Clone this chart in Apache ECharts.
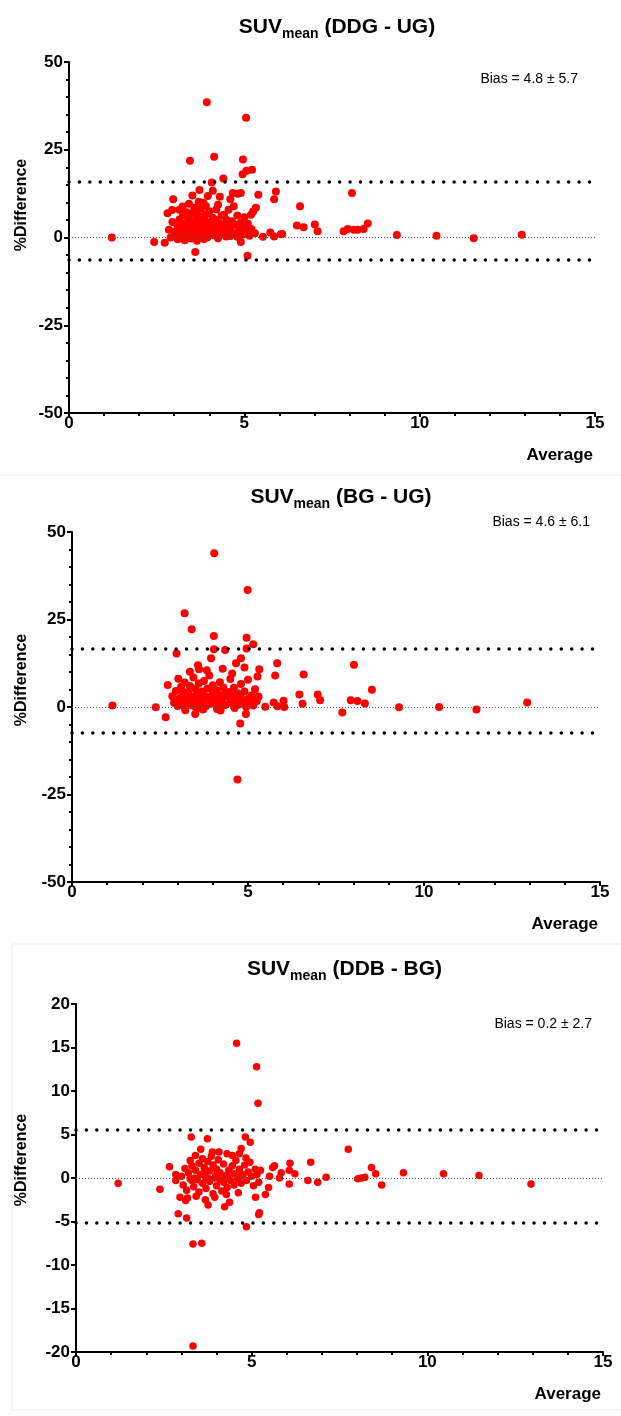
<!DOCTYPE html>
<html><head><meta charset="utf-8">
<script src="https://cdn.jsdelivr.net/npm/echarts@6/dist/echarts.min.js"></script>
<style>html,body{margin:0;padding:0;background:#fff}#c{width:621px;height:1416px}</style>
</head><body><div id="c"></div>
<script>
// ---- data ----
const titles = ['(DDG - UG)', '(BG - UG)', '(DDB - BG)'];
const biasMean = [4.8, 4.6, 0.2];
const biasSD = [5.7, 6.1, 2.7];
const yTicks1 = [-50, -25, 0, 25, 50];
const yTicks3 = [-20, -15, -10, -5, 0, 5, 10, 15, 20];
const xTicks = [0, 5, 10, 15];

const ddgUg = [
[1.22,0],[3.93,38.5],[5.05,34.1],[3.45,21.9],[4.14,23.0],[4.96,22.2],[4.95,18.0],[5.06,19.0],[5.22,19.3],[4.40,16.8],[4.07,15.7],[3.72,13.5],[4.10,13.3],[3.96,11.8],[4.67,12.7],[4.81,12.5],[4.90,12.7],[5.40,12.2],[5.90,13.1],[5.85,10.9],[8.07,12.7],[2.97,10.9],[3.83,9.9],[3.24,8.8],[3.57,8.5],[4.70,8.9],[5.33,8.5],[6.59,8.9],[2.81,6.9],[2.94,7.8],[4.42,6.5],[5.19,6.5],[6.50,3.4],[6.69,2.9],[7.01,3.7],[7.09,1.8],[7.83,1.8],[7.95,2.4],[8.12,2.2],[8.23,2.2],[8.40,2.4],[8.52,4.0],[2.43,-1.3],[2.73,-1.5],[3.60,-4.1],[4.90,-1.3],[5.09,-5.2],[5.53,0.2],[5.85,0.3],[6.04,0.9],[5.74,1.4],[6.08,1.0],[9.35,0.7],[10.48,0.5],[11.54,-0.2],[12.91,0.8],
[3.0,0.5],[3.05,1.8],[3.1,3.2],[3.1,-0.5],[3.15,5.1],[3.2,2.4],[3.2,0.2],[3.25,6.3],[3.25,1.1],[3.3,4.0],[3.3,-0.8],[3.35,2.9],[3.35,7.2],[3.4,0.6],[3.4,5.5],[3.45,1.9],[3.45,3.6],[3.5,-0.3],[3.5,4.6],[3.5,6.8],[3.55,2.5],[3.55,0.9],[3.6,7.6],[3.6,3.1],[3.6,1.4],[3.65,-0.9],[3.65,5.2],[3.7,2.0],[3.7,0.3],[3.7,6.1],[3.75,3.8],[3.75,8.2],[3.8,1.0],[3.8,4.9],[3.85,2.6],[3.85,-0.4],[3.9,6.6],[3.9,3.3],[3.95,1.6],[3.95,0.1],[4.0,4.3],[4.0,7.5],[4.05,2.2],[4.1,0.7],[4.1,5.6],[4.15,3.0],[4.2,1.3],[4.2,8.0],[4.25,-0.2],[4.3,4.0],[4.3,2.1],[4.35,6.2],[4.4,0.9],[4.45,3.5],[4.5,1.7],[4.5,5.0],[4.55,7.9],[4.6,0.4],[4.6,2.9],[4.65,4.6],[4.7,1.2],[4.75,3.6],[4.8,6.3],[4.8,0.2],[4.85,2.3],[4.9,4.2],[4.95,0.8],[5.0,2.9],[5.0,5.8],[5.05,1.5],[5.1,3.9],[5.15,0.5],[5.2,2.4],[5.25,7.4],[5.3,1.2],[2.85,2.2],[2.9,0.0],[2.95,4.4],[3.12,1.0],[3.28,3.3],[3.38,-0.1],[3.48,2.7],[3.58,4.1],[3.68,1.1],[3.78,2.8],[3.88,4.8],[3.98,2.6],[4.08,1.1],[4.18,5.0],[4.28,3.3],[4.38,1.9],[4.48,0.3],[3.42,9.6],[3.9,9.0],[4.25,9.3],[3.15,7.9],[3.7,10.2],[4.6,10.9],[3.52,12.0],[4.3,11.6]
];

const bgUg = [
[1.15,0.4],[4.04,43.9],[4.99,33.4],[3.20,26.8],[3.40,22.2],[4.03,20.3],[4.96,19.8],[5.15,17.9],[4.03,16.5],[4.35,16.3],[4.96,16.7],[2.97,15.3],[3.95,13.9],[4.66,12.5],[4.80,13.9],[3.61,10.8],[5.32,10.8],[5.27,8.7],[5.83,12.5],[5.77,9.0],[6.58,9.3],[8.01,12.1],[2.72,6.3],[6.46,3.6],[6.55,0.9],[6.98,3.6],[7.05,1.9],[7.68,-1.6],[7.92,1.9],[8.11,1.7],[8.32,1.0],[8.52,4.9],[2.38,-0.1],[2.66,-2.9],[3.50,-2.0],[4.78,-4.7],[4.94,-2.0],[4.12,-0.6],[5.49,0.1],[5.73,1.3],[6.01,1.8],[6.03,0.0],[5.84,0.2],[4.70,-20.7],[9.29,-0.1],[10.43,0.0],[11.49,-0.7],[12.93,1.3],
[2.85,3.1],[2.9,1.2],[2.95,4.6],[3.0,0.3],[3.05,2.4],[3.1,5.8],[3.1,1.0],[3.15,3.5],[3.2,0.0],[3.2,7.0],[3.25,2.1],[3.3,4.3],[3.3,1.5],[3.35,6.0],[3.4,0.5],[3.4,3.0],[3.45,8.4],[3.5,1.9],[3.5,5.2],[3.55,-0.4],[3.55,3.8],[3.6,2.6],[3.6,6.7],[3.65,0.8],[3.7,4.4],[3.7,1.6],[3.75,7.4],[3.8,3.1],[3.8,0.2],[3.85,5.3],[3.9,2.2],[3.9,9.0],[3.95,0.9],[4.0,3.9],[4.0,6.2],[4.05,1.4],[4.1,4.8],[4.1,2.7],[4.15,0.3],[4.2,7.1],[4.2,3.4],[4.25,1.8],[4.3,5.6],[4.35,0.6],[4.4,2.9],[4.45,4.3],[4.5,1.2],[4.5,8.0],[4.55,3.2],[4.6,0.2],[4.6,5.5],[4.65,2.1],[4.7,3.9],[4.75,0.7],[4.8,6.6],[4.8,2.6],[4.85,1.1],[4.9,4.4],[4.95,0.0],[5.0,2.3],[5.0,7.8],[5.05,1.0],[5.1,3.3],[5.15,0.4],[5.2,5.1],[5.25,1.7],[5.3,3.0],[3.02,8.1],[3.35,10.1],[3.58,11.9],[3.83,10.5],[4.28,10.9],[4.55,9.6],[4.9,11.3],[3.22,-0.9],[3.72,-0.7],[4.22,-1.0],[4.62,-0.3],[3.15,4.2],[3.45,2.3],[3.65,3.4],[3.95,2.4],[4.35,3.7],[4.75,1.6],[5.15,2.2],[4.02,5.1],[3.48,0.2],[4.18,0.9]
];

const ddbBg = [
[4.57,15.5],[5.14,12.8],[5.18,8.6],[1.20,-0.6],[2.39,-1.3],[2.66,1.3],[2.84,0.4],[2.84,-0.3],[2.96,-2.2],[2.91,-4.1],[3.15,-4.6],[3.17,-2.3],[3.28,4.7],[3.74,4.5],[3.76,-3.1],[4.07,3.0],[4.23,-3.3],[4.37,-2.8],[4.30,2.8],[4.82,4.7],[4.96,4.1],[4.70,3.4],[4.65,2.8],[4.84,2.3],[5.11,-2.2],[5.22,-4.0],[5.20,-4.2],[5.39,-1.9],[5.48,-1.1],[5.51,0.2],[5.60,1.2],[5.65,1.4],[5.79,0.0],[5.84,0.6],[6.09,1.7],[6.07,0.9],[6.23,0.5],[6.07,-0.7],[6.60,-0.3],[6.68,1.8],[6.88,-0.5],[7.12,0.1],[7.75,3.3],[8.02,-0.1],[8.13,0.0],[8.22,0.1],[8.41,1.2],[8.53,0.5],[8.70,-0.8],[9.32,0.6],[10.46,0.5],[11.47,0.3],[12.95,-0.7],[3.33,-19.3],[3.33,-7.6],[3.58,-7.5],[4.85,-5.6],
[3.0,0.2],[3.05,-0.8],[3.1,1.1],[3.15,-1.4],[3.2,0.6],[3.25,2.0],[3.3,-0.3],[3.3,1.4],[3.35,-1.0],[3.4,0.9],[3.4,2.6],[3.45,-0.2],[3.5,1.7],[3.5,-1.6],[3.55,0.4],[3.6,2.2],[3.6,-0.6],[3.65,1.2],[3.7,-1.2],[3.7,0.1],[3.75,1.9],[3.8,-0.4],[3.8,0.8],[3.85,2.5],[3.9,-1.8],[3.9,1.5],[3.95,0.0],[4.0,-0.9],[4.0,1.0],[4.05,2.1],[4.1,-0.2],[4.1,0.6],[4.15,-1.5],[4.2,1.6],[4.2,-0.5],[4.25,0.3],[4.3,-1.1],[4.35,0.9],[4.4,-0.3],[4.45,1.4],[4.5,-0.8],[4.5,0.5],[4.55,2.0],[4.6,-0.1],[4.65,1.0],[4.7,-0.6],[4.75,0.4],[4.8,1.5],[4.85,-0.3],[4.9,0.7],[4.95,1.8],[5.0,0.2],[5.05,-0.9],[5.1,1.0],[5.15,0.4],[5.2,-0.5],[5.25,0.9],[3.12,-2.6],[3.42,-2.1],[3.68,-2.5],[3.95,-2.2],[4.28,-1.9],[4.62,-1.7],[3.55,3.3],[3.88,3.0],[4.45,2.6],[3.25,-0.1],[3.62,0.5],[3.98,0.3],[4.32,0.1],[4.68,0.2],[3.38,0.0],[3.78,-0.1]
];
const seriesData = [ddgUg, bgUg, ddbBg];

// ---- layout ----
const FONT = '"Liberation Sans", Arial, sans-serif';
const grids = [
  {left: 69, top: 62, width: 526, height: 351},
  {left: 72, top: 532, width: 528, height: 350},
  {left: 76, top: 1004, width: 527, height: 348}
];
const biasPos = [[578, 79], [590, 522], [592, 1024]];
const yNamePos = [205, 680, 1160];
const symSizes = [8, 8, 7.5];
const yRanges = [
  {min: -50, max: 50, interval: 25, minor: true},
  {min: -50, max: 50, interval: 25, minor: true},
  {min: -20, max: 20, interval: 5, minor: false}
];

const axisLineStyle = {color: '#000', width: 2};
const option = {
  animation: false,
  backgroundColor: '#fff',
  title: [], grid: [], xAxis: [], yAxis: [], series: [], graphic: []
};

for (let i = 0; i < 3; i++) {
  const g = grids[i];
  option.grid.push({left: g.left, top: g.top, width: g.width, height: g.height, containLabel: false});
  option.xAxis.push({
    gridIndex: i, type: 'value', min: 0, max: 15, interval: 5,
    axisLine: {onZero: false, lineStyle: axisLineStyle},
    axisTick: {show: true, length: 4, lineStyle: {color: '#000', width: 2}},
    minorTick: {show: true, splitNumber: 5, length: 3, lineStyle: {color: '#000', width: 2}},
    splitLine: {show: false},
    axisLabel: {color: '#000', fontSize: 17, fontWeight: 'bold', fontFamily: FONT, margin: 2}
  });
  const yr = yRanges[i];
  option.yAxis.push({
    gridIndex: i, type: 'value', min: yr.min, max: yr.max, interval: yr.interval,
    axisLine: {show: true, onZero: false, lineStyle: axisLineStyle},
    axisTick: {show: true, length: 5, lineStyle: {color: '#000', width: 2}},
    minorTick: {show: yr.minor, splitNumber: 5, length: 3, lineStyle: {color: '#000', width: 2}},
    splitLine: {show: false},
    axisLabel: {color: '#000', fontSize: 17, fontWeight: 'bold', fontFamily: FONT, margin: 6}
  });
  const upper = +(biasMean[i] + 1.96 * biasSD[i]).toFixed(2);
  const lower = +(biasMean[i] - 1.96 * biasSD[i]).toFixed(2);
  option.series.push({
    type: 'scatter', xAxisIndex: i, yAxisIndex: i,
    data: seriesData[i], symbolSize: symSizes[i],
    itemStyle: {color: '#ff0000', opacity: 1},
    markLine: {
      silent: true, symbol: 'none', label: {show: false}, animation: false,
      data: [
        {yAxis: 0, lineStyle: {color: '#555', width: 1, type: [1, 2], cap: 'butt'}},
        {yAxis: upper, lineStyle: {color: '#000', width: 3.5, type: [0.01, 10.4], cap: 'round'}},
        {yAxis: lower, lineStyle: {color: '#000', width: 3.5, type: [0.01, 10.4], cap: 'round'}}
      ]
    },
    z: 3
  });
  const cx = g.left + g.width / 2;
  option.title.push({
    text: '{a|SUV}{b|mean}{a| ' + titles[i] + '}',
    left: cx, textAlign: 'center', top: g.top - 50,
    textStyle: {rich: {
      a: {fontSize: 21, fontWeight: 'bold', fontFamily: FONT, color: '#000', lineHeight: 24, verticalAlign: 'top'},
      b: {fontSize: 14, fontWeight: 'bold', fontFamily: FONT, color: '#000', lineHeight: 14, verticalAlign: 'bottom', padding: [12, 0, 0, 0]}
    }}
  });
  option.graphic.push({
    type: 'text', x: biasPos[i][0], y: biasPos[i][1],
    style: {text: 'Bias = ' + biasMean[i] + ' ± ' + biasSD[i], font: '14px ' + FONT, fill: '#000', align: 'right', verticalAlign: 'middle'}
  });
  option.graphic.push({
    type: 'text', x: g.left + g.width - 2, y: g.top + g.height + 42,
    style: {text: 'Average', font: 'bold 17px ' + FONT, fill: '#000', align: 'right', verticalAlign: 'middle'}
  });
  option.graphic.push({
    type: 'text', x: 22, y: yNamePos[i], rotation: Math.PI / 2,
    style: {text: '%Difference', font: 'bold 16px ' + FONT, fill: '#000', align: 'center', verticalAlign: 'middle'}
  });
}
// faint panel separators / frames
option.graphic.push({type: 'line', shape: {x1: 0, y1: 475, x2: 621, y2: 475}, style: {stroke: '#efefef', lineWidth: 1}});
option.graphic.push({type: 'rect', shape: {x: 12, y: 944, width: 620, height: 466}, style: {stroke: '#efefef', fill: null, lineWidth: 1}, z: -1});

const chart = echarts.init(document.getElementById('c'), null, {renderer: 'canvas'});
chart.setOption(option);
</script></body></html>
